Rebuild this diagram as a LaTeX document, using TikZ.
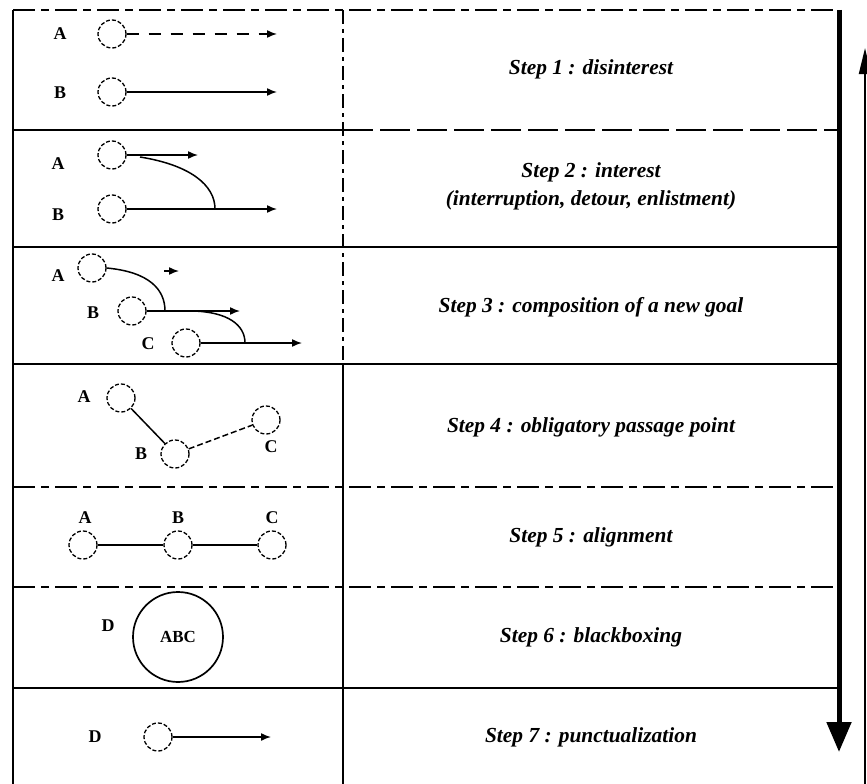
\documentclass[tikz,border=0pt]{standalone}
\usepackage{fontspec}
\setmainfont{Liberation Serif}
\usetikzlibrary{arrows.meta}
\begin{document}
\begin{tikzpicture}[x=1bp,y=-1bp,
  actor/.style={circle,draw,line width=1.3bp,dash pattern=on 4bp off 2bp,
    minimum size=28bp,inner sep=0pt},
  lbl/.style={font=\fontsize{18}{20}\selectfont\bfseries,inner sep=0pt},
  steptext/.style={font=\fontsize{21.5}{28}\selectfont\bfseries\itshape,align=center,inner sep=0pt},
  rule/.style={line width=1.8bp},
  brokenrule/.style={rule,dash pattern=on 22bp off 6bp on 8bp off 6bp},
  link/.style={line width=1.5bp},
  goal/.style={link,-{Latex[length=10bp,width=8bp]}}
]
\useasboundingbox (0,0) rectangle (867,784);

% ---- table frame ----
\coordinate (tl) at (13,10);
\coordinate (tr) at (839,10);
\coordinate (bl) at (13,784);
\coordinate (ct) at (343,10);
\coordinate (cm) at (343,364);
\coordinate (cb) at (343,784);
\draw[brokenrule] (tl) -- (tr);
\draw[rule] (tl) -- (bl);
\draw[rule,dash pattern=on 14bp off 5bp on 4bp off 5bp] (ct) -- (cm);
\draw[rule] (cm) -- (cb);

% row separators
\draw[rule] (13,130) -- (343,130);
\draw[rule,dash pattern=on 30bp off 7bp] (343,130) -- (839,130);
\draw[rule] (13,247) -- (839,247);
\draw[rule] (13,364) -- (839,364);
\draw[brokenrule] (13,487) -- (839,487);
\draw[brokenrule] (13,587) -- (839,587);
\draw[rule] (13,688) -- (839,688);

% time axis on the frame's right edge
\coordinate (down0) at (839,10);
\coordinate (down1) at (839,752);
\draw[line width=5bp,-{Triangle[length=30bp,width=24bp]}] (down0) -- (down1);
\coordinate (up0) at (865,784);
\coordinate (up1) at (865,48);
\draw[line width=2bp,-{Triangle[length=26bp,width=12bp]}] (up0) -- (up1);

% ---- step 1 ----
\node[lbl] (l1a) at (60,34) {A};
\node[actor] (c1a) at (112,34) {};
\coordinate (e1a) at (277,34);
\draw[goal,dash pattern=on 12bp off 10bp] (c1a.east) -- (e1a);
\node[lbl] (l1b) at (60,93) {B};
\node[actor] (c1b) at (112,92) {};
\coordinate (e1b) at (277,92);
\draw[goal] (c1b.east) -- (e1b);
\node[steptext] (s1) at (591,69) {Step 1 : disinterest};

% ---- step 2 ----
\node[lbl] (l2a) at (58,164) {A};
\node[actor] (c2a) at (112,155) {};
\coordinate (e2a) at (198,155);
\draw[goal] (c2a.east) -- (e2a);
\node[lbl] (l2b) at (58,215) {B};
\node[actor] (c2b) at (112,209) {};
\coordinate (e2b) at (277,209);
\draw[goal] (c2b.east) -- (e2b);
\coordinate (d2a) at (140,157);
\coordinate (d2b) at (215,209);
\draw[link] (d2a) .. controls (190,165) and (215,185) .. (d2b);
\node[steptext] (s2) at (591,186) {Step 2 : interest\\(interruption, detour, enlistment)};

% ---- step 3 ----
\node[lbl] (l3a) at (58,276) {A};
\node[actor] (c3a) at (92,268) {};
\coordinate (e3a0) at (164,271);
\coordinate (e3a) at (179,271);
\draw[goal] (e3a0) -- (e3a);
\coordinate (d3a) at (165,311);
\draw[link] (c3a.east) .. controls (150,272) and (165,290) .. (d3a);
\node[lbl] (l3b) at (93,313) {B};
\node[actor] (c3b) at (132,311) {};
\coordinate (e3b) at (240,311);
\draw[goal] (c3b.east) -- (e3b);
\coordinate (d3b0) at (193,311);
\coordinate (d3b) at (245,343);
\draw[link] (d3b0) .. controls (228,312) and (245,325) .. (d3b);
\node[lbl] (l3c) at (148,344) {C};
\node[actor] (c3c) at (186,343) {};
\coordinate (e3c) at (302,343);
\draw[goal] (c3c.east) -- (e3c);
\node[steptext] (s3) at (591,307) {Step 3 : composition of a new goal};

% ---- step 4 ----
\node[lbl] (l4a) at (84,397) {A};
\node[actor] (c4a) at (121,398) {};
\node[lbl] (l4b) at (141,454) {B};
\node[actor] (c4b) at (175,454) {};
\node[actor] (c4c) at (266,420) {};
\node[lbl] (l4c) at (271,447) {C};
\draw[link] (c4a) -- (c4b);
\draw[link,dash pattern=on 6bp off 3bp] (c4b) -- (c4c);
\node[steptext] (s4) at (591,427) {Step 4 : obligatory passage point};

% ---- step 5 ----
\node[lbl] (l5a) at (85,518) {A};
\node[lbl] (l5b) at (178,518) {B};
\node[lbl] (l5c) at (272,518) {C};
\node[actor] (c5a) at (83,545) {};
\node[actor] (c5b) at (178,545) {};
\node[actor] (c5c) at (272,545) {};
\draw[link] (c5a) -- (c5b);
\draw[link] (c5b) -- (c5c);
\node[steptext] (s5) at (591,537) {Step 5 : alignment};

% ---- step 6 ----
\node[lbl] (l6d) at (108,626) {D};
\node[circle,draw,line width=1.7bp,minimum size=90bp,inner sep=0pt,
  font=\fontsize{17}{19}\selectfont\bfseries] (c6) at (178,637) {ABC};
\node[steptext] (s6) at (591,637) {Step 6 : blackboxing};

% ---- step 7 ----
\node[lbl] (l7d) at (95,737) {D};
\node[actor] (c7d) at (158,737) {};
\coordinate (e7d) at (271,737);
\draw[goal] (c7d.east) -- (e7d);
\node[steptext] (s7) at (591,737) {Step 7 : punctualization};
\end{tikzpicture}
\end{document}
